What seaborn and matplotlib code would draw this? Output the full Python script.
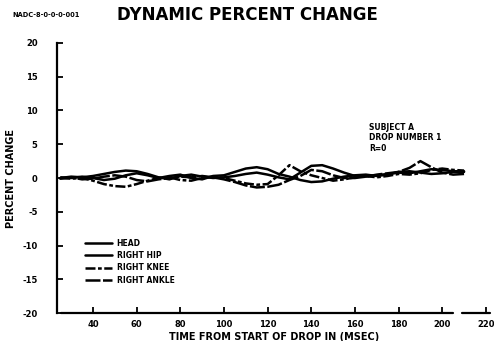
import numpy as np
import pandas as pd
import seaborn as sns
from matplotlib import pyplot as plt

# time from start of drop (msec)
time_ms = [25, 30, 35, 40, 45, 50, 55, 60, 65, 70, 75, 80, 85, 90, 95, 100, 105, 110, 115,
           120, 125, 130, 135, 140, 145, 150, 155, 160, 165, 170, 175, 180, 185, 190, 195,
           200, 205, 210]

head = [0.0, 0.2, 0.1, 0.3, 0.6, 0.9, 1.1, 1.0, 0.6, 0.1, -0.2, 0.3, 0.5, 0.2, 0.0, 0.1, 0.3,
        0.6, 0.8, 0.5, 0.1, -0.2, 0.8, 1.8, 1.9, 1.4, 0.8, 0.3, 0.2, 0.4, 0.6, 0.8, 0.7, 1.0,
        1.3, 1.2, 1.0, 1.0]
right_hip = [-0.1, 0.0, 0.2, 0.0, -0.3, -0.1, 0.4, 0.7, 0.4, 0.0, 0.3, 0.5, 0.0, -0.2, 0.3,
             0.4, 0.9, 1.4, 1.6, 1.3, 0.6, 0.2, -0.3, -0.6, -0.5, -0.1, 0.2, 0.4, 0.5, 0.3,
             0.5, 0.9, 1.0, 0.8, 0.6, 0.7, 0.9, 0.9]
right_knee = [0.1, -0.1, 0.0, -0.4, -0.9, -1.2, -1.3, -0.9, -0.4, 0.0, 0.1, -0.3, -0.4, 0.0,
              0.2, 0.0, -0.4, -0.8, -1.0, -0.9, 0.4, 1.9, 1.0, 0.4, 0.0, -0.4, -0.2, 0.1, 0.3,
              0.1, 0.3, 0.6, 0.5, 0.7, 1.2, 1.4, 1.2, 1.1]
right_ankle = [0.0, 0.1, -0.2, -0.1, 0.2, 0.4, 0.2, -0.3, -0.5, -0.2, 0.0, 0.2, 0.1, 0.3, 0.1,
               -0.2, -0.6, -1.1, -1.4, -1.3, -1.0, -0.3, 0.3, 1.2, 1.0, 0.4, 0.0, 0.0, 0.2,
               0.5, 0.7, 0.9, 1.5, 2.5, 1.6, 0.8, 0.5, 0.6]

series_names = ['HEAD', 'RIGHT HIP', 'RIGHT KNEE', 'RIGHT ANKLE']
x_ticks = [40, 60, 80, 100, 120, 140, 160, 180, 200, 220]
y_ticks = [-20, -15, -10, -5, 0, 5, 10, 15, 20]

frames = []
for name, vals in zip(series_names, [head, right_hip, right_knee, right_ankle]):
    frames.append(pd.DataFrame({'time': time_ms, 'pct': vals, 'series': name}))
df = pd.concat(frames, ignore_index=True)

sns.set_style('white', {'xtick.bottom': True, 'ytick.left': True,
                        'xtick.direction': 'in', 'ytick.direction': 'in'})
plt.rcParams['font.family'] = ['DejaVu Sans']
plt.rcParams['axes.unicode_minus'] = False
plt.rcParams['text.color'] = 'black'
plt.rcParams['axes.labelcolor'] = 'black'

fig = plt.figure(figsize=(4.94, 3.41), dpi=100)
ax = fig.add_axes([0.1154, 0.082, 0.877, 0.792])

dashes = {'HEAD': '', 'RIGHT HIP': '', 'RIGHT KNEE': (4, 1, 1.5, 1), 'RIGHT ANKLE': (6, 1)}
sns.lineplot(data=df, x='time', y='pct', hue='series', style='series',
             palette=['black'] * 4, dashes=dashes, linewidth=1.8, ax=ax)

ax.set_xlim(23.5, 222)
ax.set_ylim(-20, 20)
ax.set_xticks(x_ticks)
ax.set_yticks(y_ticks)
ax.tick_params(axis='both', which='major', direction='in', length=4, width=1.3,
               labelsize=6, colors='black', bottom=True, left=True)
ax.tick_params(axis='y', pad=14)
ax.tick_params(axis='x', pad=5)
for lbl in ax.get_xticklabels() + ax.get_yticklabels():
    lbl.set_fontweight('heavy')

for s in ['top', 'right', 'bottom']:
    ax.spines[s].set_visible(False)
ax.spines['left'].set_linewidth(1.6)
ax.spines['left'].set_color('black')
# broken x axis
trans = ax.get_xaxis_transform()
ax.plot([25.5, 205], [0, 0], color='black', lw=1.6, transform=trans, clip_on=False)
ax.plot([209, 222], [0, 0], color='black', lw=1.6, transform=trans, clip_on=False)

ax.set_xlabel('TIME FROM START OF DROP IN (MSEC)', fontsize=7, fontweight='heavy', labelpad=2)
ax.set_ylabel('PERCENT CHANGE', fontsize=7, fontweight='heavy')
ax.yaxis.set_label_coords(-0.095, 0.5)

fig.text(0.50, 0.955, 'DYNAMIC PERCENT CHANGE', ha='center', va='center',
         fontsize=12, fontweight='heavy')
fig.text(0.025, 0.955, 'NADC-8-0-0-0-001', ha='left', va='center', fontsize=4.8,
         fontweight='heavy')

ax.text(0.72, 0.705, 'SUBJECT A\nDROP NUMBER 1\nR=0', transform=ax.transAxes, fontsize=5.5,
        fontweight='heavy', va='top', ha='left', linespacing=1.25)

handles, labels = ax.get_legend_handles_labels()
ax.legend(handles, labels, loc='upper left', bbox_to_anchor=(0.055, 0.29), frameon=False,
          prop={'size': 5.5, 'weight': 'heavy'}, handlelength=3.6, handletextpad=0.6,
          labelspacing=0.45, borderpad=0)

plt.savefig('out.png', dpi=100)
